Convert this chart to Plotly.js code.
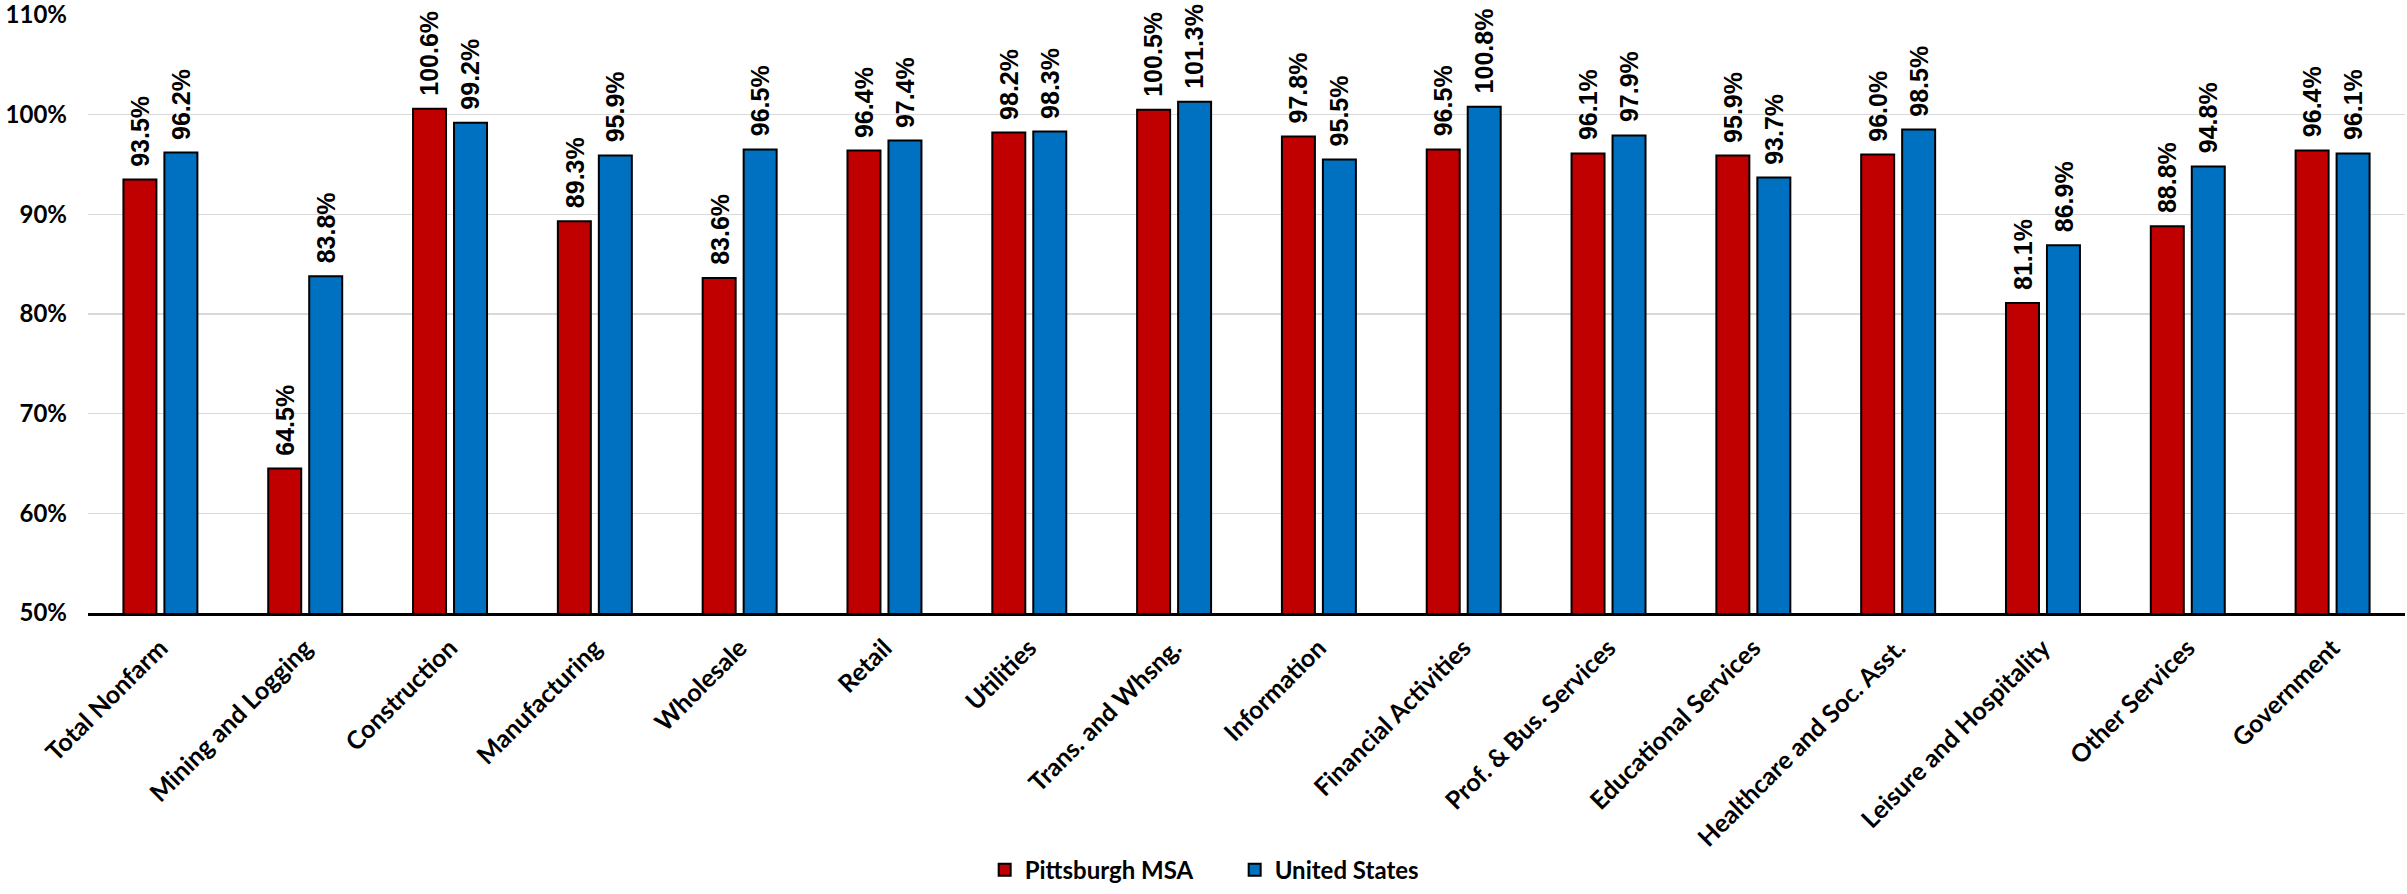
<!DOCTYPE html>
<html>
<head>
<meta charset="utf-8">
<script src="https://cdn.plot.ly/plotly-3.0.1.min.js"></script>
<style>
  html, body { margin: 0; padding: 0; background: #fff; }
  #chart { width: 2407px; height: 894px; }
</style>
</head>
<body>
<div id="chart"></div>
<script>
// Employment recovery by industry, percent of pre-pandemic level
const categories = [
  "Total Nonfarm", "Mining and Logging", "Construction", "Manufacturing",
  "Wholesale", "Retail", "Utilities", "Trans. and Whsng.", "Information",
  "Financial Activities", "Prof. & Bus. Services", "Educational Services",
  "Healthcare and Soc. Asst.", "Leisure and Hospitality", "Other Services",
  "Government"
];
const pittsburgh = [93.5, 64.5, 100.6, 89.3, 83.6, 96.4, 98.2, 100.5, 97.8, 96.5, 96.1, 95.9, 96.0, 81.1, 88.8, 96.4];
const unitedStates = [96.2, 83.8, 99.2, 95.9, 96.5, 97.4, 98.3, 101.3, 95.5, 100.8, 97.9, 93.7, 98.5, 86.9, 94.8, 96.1];
const seriesNames = ["Pittsburgh MSA", "United States"];
const yTicks = [50, 60, 70, 80, 90, 100, 110];

const W = 2407, H = 894;
const margin = { l: 88, r: 2, t: 15, b: 281 };
const bargap = 0.434, bargroupgap = 0.195;

const axisFamily = "Lato, Open Sans, sans-serif";
const labelFont = { family: "Liberation Sans, Arial, sans-serif", size: 25, color: "#000" };

const colors = ["#C00000", "#0070C0"];
const series = [pittsburgh, unitedStates];

const traces = series.map((vals, i) => ({
  type: "bar",
  name: "<b>" + seriesNames[i] + "</b>",
  x: categories,
  y: vals,
  marker: { color: colors[i], line: { color: "#000", width: 2 } },
  hoverinfo: "x+y"
}));

// Value labels sit above each bar, offset sideways to its slot in the group
const plotW = W - margin.l - margin.r;
const catW = plotW / categories.length;
const slot = catW * (1 - bargap) / 2;
const annotations = [];
series.forEach((vals, i) => {
  const shift = (i === 0 ? -1 : 1) * slot / 2;
  vals.forEach((v, k) => {
    annotations.push({
      x: categories[k], y: v, xref: "x", yref: "y",
      text: "<b>" + v.toFixed(1) + "%</b>",
      textangle: -90,
      showarrow: false,
      xanchor: "center", yanchor: "bottom",
      xshift: shift, yshift: 11,
      font: labelFont
    });
  });
});

const layout = {
  width: W, height: H,
  margin: margin,
  paper_bgcolor: "#fff",
  plot_bgcolor: "#fff",
  barmode: "group",
  bargap: bargap,
  bargroupgap: bargroupgap,
  showlegend: true,
  legend: {
    orientation: "h",
    x: 0.387, xanchor: "left",
    y: -0.43, yanchor: "middle",
    font: { family: axisFamily, size: 24, color: "#000" },
    itemwidth: 30,
    entrywidth: 205,
    tracegroupgap: 0
  },
  xaxis: {
    type: "category",
    tickangle: -45,
    tickvals: categories,
    ticktext: categories.map(c => "<b>" + c + "</b>"),
    tickfont: { family: axisFamily, size: 25, color: "#000" },
    showline: true, linecolor: "#000", linewidth: 2.5,
    showgrid: false, ticks: "",
    ticklabelstandoff: 8,
    automargin: false,
    fixedrange: true
  },
  yaxis: {
    range: [50, 110],
    tickvals: yTicks,
    ticktext: yTicks.map(t => "<b>" + t + "%</b>"),
    tickfont: { family: axisFamily, size: 24, color: "#000" },
    ticklabeloverflow: "allow",
    showgrid: true, gridcolor: "#d9d9d9", gridwidth: 1.5,
    zeroline: false, showline: false, ticks: "",
    ticklabelstandoff: 20,
    automargin: false,
    fixedrange: true
  },
  annotations: annotations
};

Plotly.newPlot("chart", traces, layout, { displayModeBar: false, staticPlot: true });
</script>
</body>
</html>
